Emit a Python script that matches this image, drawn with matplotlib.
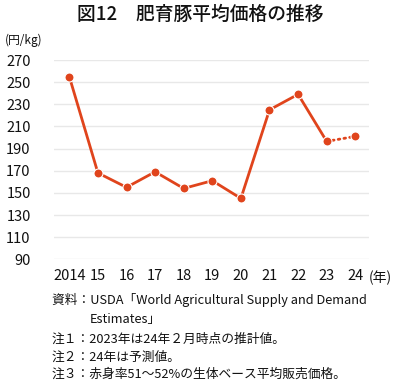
import matplotlib
matplotlib.use("Agg")
import matplotlib.pyplot as plt

plt.rcParams['font.family'] = ['Noto Sans CJK JP', 'DejaVu Sans']

years = [2014, 2015, 2016, 2017, 2018, 2019, 2020, 2021, 2022, 2023, 2024]
year_labels = ["2014", "15", "16", "17", "18", "19", "20", "21", "22", "23", "24"]
price = [255, 168, 155, 169, 154, 161, 145, 225, 239, 196.5, 201]
yticks = [90, 110, 130, 150, 170, 190, 210, 230, 250, 270]

title = "図12　肥育豚平均価格の推移"
notes = [
    "資料：USDA「World Agricultural Supply and Demand",
    "注１：2023年は24年２月時点の推計値。",
    "注２：24年は予測値。",
    "注３：赤身率51～52%の生体ベース平均販売価格。",
]
note_cont = "Estimates」"

red = "#E0441C"
W, H = 400, 390
fig = plt.figure(figsize=(W / 100, H / 100), dpi=100)
ax = fig.add_axes([54.3 / W, 1 - 259.3 / H, 315 / W, 199.3 / H])

# actual values up to 2023, forecast dotted
ax.plot(years[:10], price[:10], color=red, lw=2.0, solid_joinstyle='round', zorder=3)
ax.plot(years[9:], price[9:], color=red, lw=2.0, ls=(0, (0.6, 1.5)), dash_capstyle='round', zorder=3)
ax.plot(years, price, 'o', color=red, ms=6.5, mec='white', mew=0.8, zorder=4)

ax.set_xlim(2013.475, 2024.49)
ax.set_ylim(90, 270)
ax.set_yticks(yticks)
ax.set_xticks(years)
ax.set_xticklabels(year_labels)
ax.grid(axis='y', color='#e8e8e8', lw=1)
ax.set_axisbelow(True)
for s in ax.spines.values():
    s.set_visible(False)
ax.tick_params(length=0, labelsize=10.5, colors='#111111')
ax.tick_params(axis='y', pad=17)
ax.tick_params(axis='x', pad=7)

fig.text(200 / W, 1 - 14 / H, title, ha='center', va='center', fontsize=13.5,
         fontweight='medium', color='#111111')
fig.text(5 / W, 1 - 40 / H, "(円/kg)", ha='left', va='center', fontsize=8.5, color='#111111')
fig.text(369 / W, 1 - 278 / H, "(年)", ha='left', va='center', fontsize=10, color='#111111')

ys = [300, 339, 357, 374]
for t, y in zip(notes, ys):
    fig.text(52 / W, 1 - y / H, t, ha='left', va='center', fontsize=9.2, color='#111111')
fig.text(90 / W, 1 - 319 / H, note_cont, ha='left', va='center', fontsize=9.2, color='#111111')

fig.savefig("out.png", dpi=100)
